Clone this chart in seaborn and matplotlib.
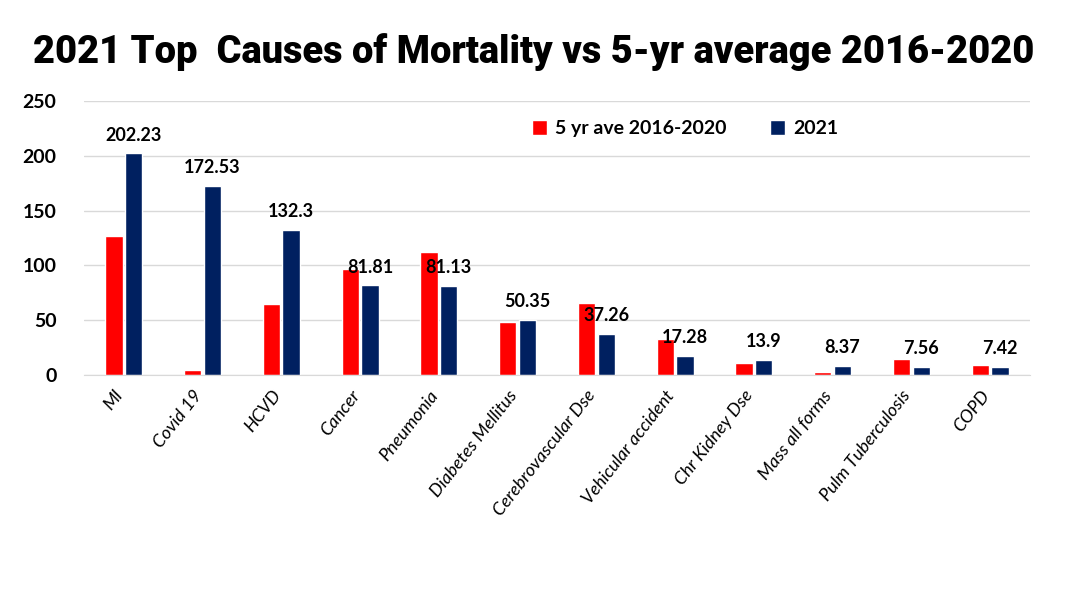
import pandas as pd
import matplotlib.pyplot as plt
import matplotlib.transforms as mtransforms
import seaborn as sns

# values
causes = ['MI', 'Covid 19', 'HCVD', 'Cancer', 'Pneumonia', 'Diabetes Mellitus',
          'Cerebrovascular Dse', 'Vehicular accident', 'Chr Kidney Dse',
          'Mass all forms', 'Pulm Tuberculosis', 'COPD']
ave_2016_2020 = [127, 5, 65, 97, 112, 48, 66, 33, 11, 2.5, 15, 9.4]
year_2021 = [202.23, 172.53, 132.3, 81.81, 81.13, 50.35, 37.26, 17.28, 13.9, 8.37, 7.56, 7.42]
series_names = ['5 yr ave 2016-2020', '2021']
y_ticks = [0, 50, 100, 150, 200, 250]

df = pd.DataFrame({
    'cause': causes * 2,
    'series': [series_names[0]] * len(causes) + [series_names[1]] * len(causes),
    'value': ave_2016_2020 + year_2021,
})

sns.set_style('white')
plt.rcParams['font.family'] = ['Lato', 'DejaVu Sans']
plt.rcParams['text.color'] = 'black'
plt.rcParams['xtick.color'] = 'black'
plt.rcParams['ytick.color'] = 'black'

fig = plt.figure(figsize=(10.68, 6.01), dpi=100)
ax = fig.add_axes([0.079, 0.376, 0.885, 0.456])

sns.barplot(data=df, x='cause', y='value', hue='series', order=causes,
            hue_order=series_names, palette=['#ff0000', '#002060'],
            width=0.5, gap=0.12, saturation=1, ax=ax)

# only the 2021 bars carry value labels
ax.bar_label(ax.containers[1], labels=[f'{v:g}' for v in year_2021],
             padding=7, fontsize=13, fontweight='bold')

ax.set_ylim(0, 250)
ax.set_yticks(y_ticks)
ax.set_xlim(-0.5, len(causes) - 0.5)
ax.yaxis.grid(True, color='#d9d9d9', lw=1)
ax.set_axisbelow(True)
for s in ['top', 'right', 'left']:
    ax.spines[s].set_visible(False)
ax.spines['bottom'].set_color('#d9d9d9')

ax.set_xlabel('')
ax.set_ylabel('')
ax.tick_params(axis='y', length=0, pad=20, labelsize=14)
for lbl in ax.get_yticklabels():
    lbl.set_fontweight('bold')
ax.tick_params(axis='x', length=0, pad=9)
ax.set_xticks(range(len(causes)))
ax.set_xticklabels(causes, rotation=52, ha='right', rotation_mode='anchor',
                   fontsize=13, fontstyle='italic')
# nudge the slanted labels left so their ends sit under the bar pairs
shift = mtransforms.ScaledTranslation(-10 / 100, 0, fig.dpi_scale_trans)
for lbl in ax.get_xticklabels():
    lbl.set_transform(lbl.get_transform() + shift)

ax.legend(loc='center left', bbox_to_anchor=(0.455, 0.9), ncol=2, frameon=False,
          handlelength=0.8, handleheight=0.8, handletextpad=0.4, columnspacing=2.2,
          prop={'weight': 'bold', 'size': 14})

# no condensed display face here, so fit a heavy sans to the title's width
title = fig.text(0.5, 0.913, '2021 Top  Causes of Mortality vs 5-yr average 2016-2020',
                 ha='center', va='center', fontsize=30, fontweight='black',
                 family=['Roboto', 'DejaVu Sans'])
renderer = fig.canvas.get_renderer()
w = title.get_window_extent(renderer).width
title.set_fontsize(30 * 1000 / w)

fig.savefig('out.png', dpi=100)
